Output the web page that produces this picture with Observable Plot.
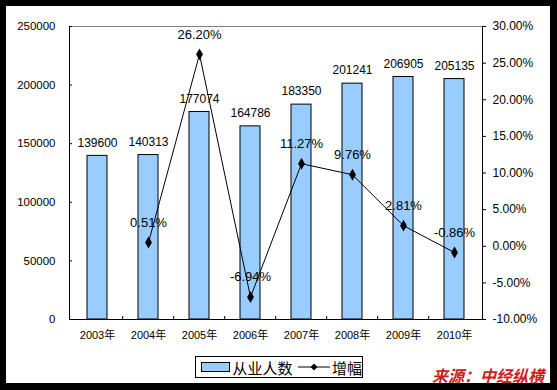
<!DOCTYPE html>
<html><head><meta charset="utf-8">
<script src="https://cdn.jsdelivr.net/npm/d3@7"></script>
<script src="https://cdn.jsdelivr.net/npm/@observablehq/plot@0.6"></script>
<style>
html,body{margin:0;padding:0;background:#000;}
#wrap{position:relative;width:557px;height:390px;background:#000;overflow:hidden;}
#inner{position:absolute;left:6px;top:6px;width:544px;height:377px;background:#fff;}
#chart{position:absolute;left:0;top:0;}
#legend{position:absolute;left:195px;top:356px;width:168px;height:22px;box-sizing:border-box;border:1px solid #000;background:#fff;
  font-family:"Liberation Sans","Noto Sans CJK SC",sans-serif;font-size:15px;color:#000;display:flex;align-items:center;white-space:nowrap;}
#legend .sw{display:inline-block;width:27px;height:8px;background:#99CCFF;border:1px solid #000;margin-left:5px;margin-right:3px;}
#source{position:absolute;left:432px;top:363px;font-family:"Noto Sans CJK SC",sans-serif;font-weight:bold;font-style:italic;font-size:16px;color:#CC2020;white-space:nowrap;}
</style></head>
<body>
<div id="wrap"><div id="inner"></div><div id="chart"></div>
<div id="legend"><span class="sw"></span><span>从业人数</span>
<svg width="34" height="10" style="margin:0 2px 0 4px"><line x1="1" y1="5" x2="33" y2="5" stroke="#000" stroke-width="1"/><path d="M17,1.5L20.5,5L17,8.5L13.5,5Z" fill="#000"/></svg><span>增幅</span></div>
<div id="source">来源：中经纵横</div>
</div>
<script>
const years = ["2003年","2004年","2005年","2006年","2007年","2008年","2009年","2010年"];
const employees = [139600,140313,177074,164786,183350,201241,206905,205135];
const growth = [null,0.51,26.20,-6.94,11.27,9.76,2.81,-0.86];
const leftTicks = [0,50000,100000,150000,200000,250000];
const rightTicks = [-10,-5,0,5,10,15,20,25,30];

const leftMax = 250000, rMin = -10, rMax = 30;
const toLeft = g => (g - rMin) / (rMax - rMin) * leftMax;

const rows = years.map((y,i)=>({year:y, emp:employees[i], g:growth[i]}));
const gRows = rows.filter(d=>d.g!=null);

const W = 557, H = 390, mL = 69, mR = 75, mT = 26, mB = 71;
const step = (W - mL - mR) / years.length;
const font = "'Liberation Sans', Arial, 'Noto Sans CJK SC', sans-serif";

const chart = Plot.plot({
  width: W, height: H,
  marginLeft: mL, marginRight: mR, marginTop: mT, marginBottom: mB,
  style: {background: "transparent", fontFamily: font, color: "#000"},
  x: {domain: years, paddingInner: 0.6, paddingOuter: 0.3, axis: null, label: null},
  y: {domain: [0, leftMax], axis: null, label: null},
  marks: [
    Plot.frame({anchor: "top", stroke: "#808080"}),
    Plot.barY(rows, {x: "year", y: "emp", fill: "#99CCFF", stroke: "#000", strokeWidth: 1}),
    Plot.frame({anchor: "left", stroke: "#000"}),
    Plot.frame({anchor: "right", stroke: "#000"}),
    Plot.ruleY([0], {stroke: "#000"}),
    Plot.ruleX(years.slice(1), {x: d=>d, dx: -step/2, y1: 0, y2: 0, insetTop: -3, stroke: "#000"}),
    Plot.axisY(leftTicks, {anchor: "left", label: null, tickSize: -3, tickPadding: 17, tickFormat: d=>String(d), fontSize: 11.5, fill: "#000"}),
    Plot.axisY(rightTicks.map(toLeft), {anchor: "right", label: null, tickSize: 3, tickPadding: 7, fontSize: 12, fill: "#000",
      tickFormat: v => (v / leftMax * (rMax - rMin) + rMin).toFixed(2) + "%"}),
    Plot.axisX({anchor: "bottom", label: null, tickSize: 0, tickPadding: 12, fontSize: 11, fill: "#000"}),
    Plot.line(gRows, {x: "year", y: d=>toLeft(d.g), stroke: "#000", strokeWidth: 1}),
    Plot.dot(gRows, {x: "year", y: d=>toLeft(d.g), symbol: "diamond", r: 3.6, fill: "#000", stroke: "none"}),
    Plot.text(rows, {x: "year", y: "emp", text: d=>String(d.emp), dy: -13, fontSize: 12, fill: "#000"}),
    Plot.text(gRows, {x: "year", y: d=>toLeft(d.g), text: d=>d.g.toFixed(2)+"%", dy: -20, fontSize: 13, fill: "#000"})
  ]
});
document.getElementById("chart").appendChild(chart);
</script>
</body></html>
